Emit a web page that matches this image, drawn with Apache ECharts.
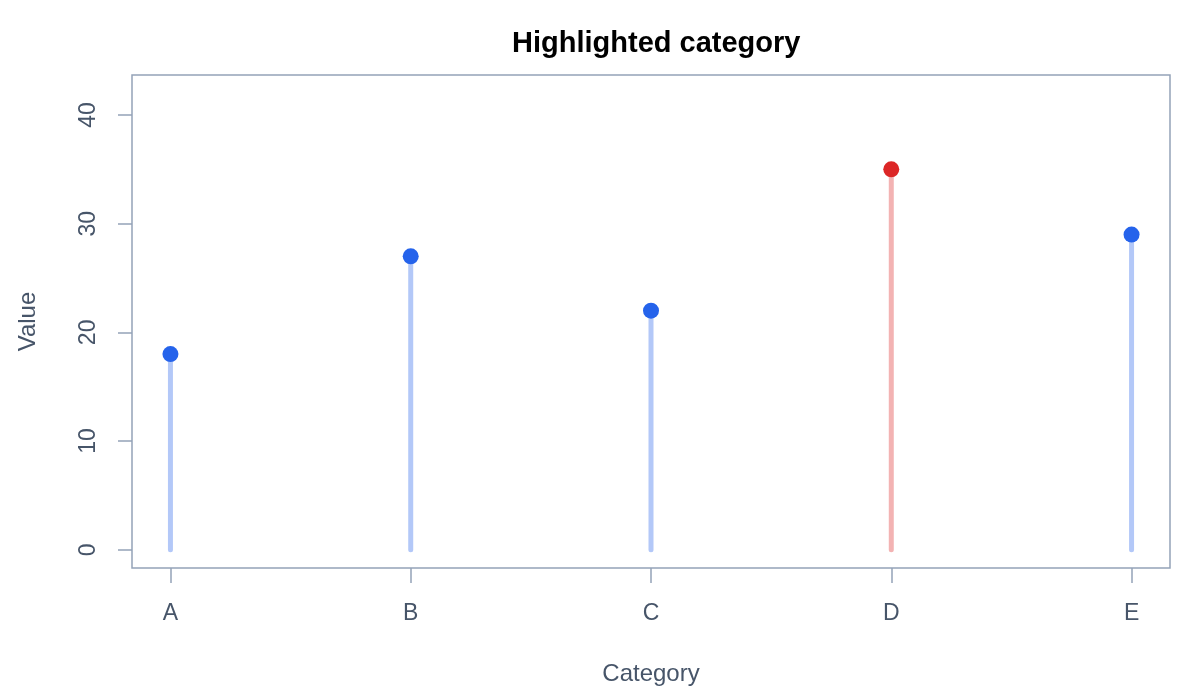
<!DOCTYPE html>
<html>
<head>
<meta charset="utf-8">
<script src="https://cdn.jsdelivr.net/npm/echarts@6/dist/echarts.min.js"></script>
<style>
html,body{margin:0;padding:0;background:#fff;}
#chart{width:1200px;height:700px;}
</style>
</head>
<body>
<div id="chart"></div>
<script>
const categories = ['A', 'B', 'C', 'D', 'E'];
const values = [18, 27, 22, 35, 29];
const highlighted = 'D';
const yTicks = [0, 10, 20, 30, 40];
const xPositions = [1, 2, 3, 4, 5];

const baseColor = '#2563eb';
const hiColor = '#dc2626';
const baseStem = '#b3c8f8';
const hiStem = '#f3b3b3';
const axisColor = '#94a3b8';
const textColor = '#475569';
const font = 'Liberation Sans, Arial, Helvetica, sans-serif';

const pointData = categories.map((c, i) => ({
  value: [xPositions[i], values[i]],
  itemStyle: { color: c === highlighted ? hiColor : baseColor, opacity: 1 }
}));
const stemData = categories.map((c, i) => [xPositions[i], values[i], c === highlighted ? 1 : 0]);

const chart = echarts.init(document.getElementById('chart'), null, { renderer: 'canvas' });
chart.setOption({
  backgroundColor: '#ffffff',
  animation: false,
  title: {
    text: 'Highlighted category',
    left: 507,
    top: 24,
    textStyle: { fontFamily: font, fontSize: 29, fontWeight: 'bold', color: '#000000' }
  },
  grid: {
    left: 132, right: 30, top: 75, bottom: 132,
    show: true, borderColor: axisColor, borderWidth: 1.5,
    containLabel: false
  },
  xAxis: {
    type: 'value',
    min: 0.84, max: 5.16,
    name: 'Category',
    nameLocation: 'middle',
    nameGap: 94,
    nameTextStyle: { fontFamily: font, fontSize: 24, color: textColor, verticalAlign: 'top' },
    axisLine: { show: false, onZero: false },
    splitLine: { show: false },
    axisTick: { show: true, length: 15, lineStyle: { color: axisColor, width: 1.5 }, customValues: xPositions },
    axisLabel: {
      customValues: xPositions,
      margin: 34,
      fontFamily: font, fontSize: 23, color: textColor,
      formatter: v => categories[Math.round(v) - 1] || ''
    }
  },
  yAxis: {
    type: 'value',
    min: -1.68, max: 43.68,
    name: 'Value',
    nameLocation: 'middle',
    nameGap: 92,
    nameTextStyle: { fontFamily: font, fontSize: 24, color: textColor },
    axisLine: { show: false, onZero: false },
    splitLine: { show: false },
    axisTick: { show: true, length: 14, lineStyle: { color: axisColor, width: 1.5 }, customValues: yTicks },
    axisLabel: {
      customValues: yTicks,
      rotate: 90,
      margin: 32,
      fontFamily: font, fontSize: 23, color: textColor
    }
  },
  series: [
    {
      type: 'custom',
      data: stemData,
      encode: { x: 0, y: 1 },
      renderItem: function (params, api) {
        const x = api.value(0);
        const top = api.coord([x, api.value(1)]);
        const bot = api.coord([x, 0]);
        return {
          type: 'line',
          shape: { x1: bot[0], y1: bot[1], x2: top[0], y2: top[1] },
          style: { stroke: api.value(2) ? hiStem : baseStem, lineWidth: 5, lineCap: 'round' }
        };
      },
      z: 1
    },
    {
      type: 'scatter',
      data: pointData,
      symbol: 'circle',
      symbolSize: 16,
      itemStyle: { opacity: 1 },
      z: 2
    }
  ]
});
</script>
</body>
</html>
